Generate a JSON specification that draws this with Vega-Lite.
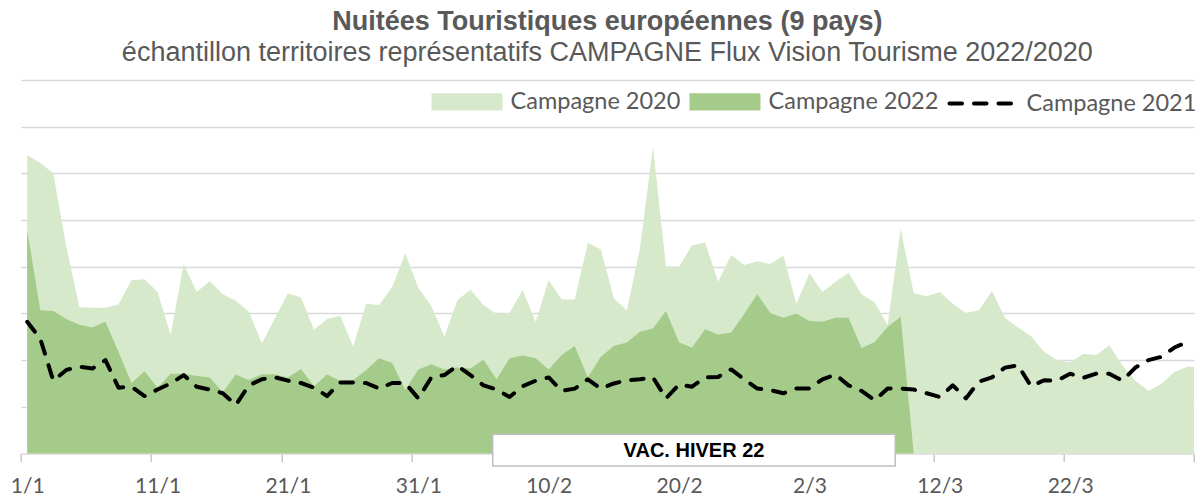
{
  "$schema": "https://vega.github.io/schema/vega-lite/v6.json",
  "width": 1173.3,
  "height": 373.5,
  "autosize": {"type": "none"},
  "padding": {"left": 20.7, "top": 80, "right": 10, "bottom": 42.5},
  "background": "white",
  "config": {"view": {"stroke": null}},
  "title": {
    "text": "Nuitées Touristiques européennes (9 pays)",
    "subtitle": "échantillon territoires représentatifs CAMPAGNE Flux Vision Tourisme 2022/2020",
    "font": "Liberation Sans", "fontSize": 27, "fontWeight": "bold", "color": "#595959",
    "subtitleFont": "Liberation Sans", "subtitleFontSize": 27, "subtitleFontWeight": "normal", "subtitleColor": "#595959",
    "anchor": "middle", "frame": "group", "offset": -1, "subtitlePadding": 4
  },
  "data": {"values": [
    {"date":"2022-01-01","c2020":6.39,"c2022":4.79,"c2021":2.82},
    {"date":"2022-01-02","c2020":6.23,"c2022":3.07,"c2021":2.46},
    {"date":"2022-01-03","c2020":6.0,"c2022":3.05,"c2021":1.56},
    {"date":"2022-01-04","c2020":4.43,"c2022":2.88,"c2021":1.79},
    {"date":"2022-01-05","c2020":3.14,"c2022":2.76,"c2021":1.86},
    {"date":"2022-01-06","c2020":3.12,"c2022":2.7,"c2021":1.82},
    {"date":"2022-01-07","c2020":3.12,"c2022":2.82,"c2021":2.0},
    {"date":"2022-01-08","c2020":3.19,"c2022":2.18,"c2021":1.41},
    {"date":"2022-01-09","c2020":3.71,"c2022":1.51,"c2021":1.43},
    {"date":"2022-01-10","c2020":3.73,"c2022":1.76,"c2021":1.23},
    {"date":"2022-01-11","c2020":3.46,"c2022":1.41,"c2021":1.37},
    {"date":"2022-01-12","c2020":2.54,"c2022":1.71,"c2021":1.5},
    {"date":"2022-01-13","c2020":4.06,"c2022":1.71,"c2021":1.68},
    {"date":"2022-01-14","c2020":3.46,"c2022":1.66,"c2021":1.43},
    {"date":"2022-01-15","c2020":3.69,"c2022":1.63,"c2021":1.37},
    {"date":"2022-01-16","c2020":3.41,"c2022":1.31,"c2021":1.29},
    {"date":"2022-01-17","c2020":3.27,"c2022":1.69,"c2021":1.04},
    {"date":"2022-01-18","c2020":3.04,"c2022":1.57,"c2021":1.46},
    {"date":"2022-01-19","c2020":2.36,"c2022":1.7,"c2021":1.59},
    {"date":"2022-01-20","c2020":2.89,"c2022":1.7,"c2021":1.63},
    {"date":"2022-01-21","c2020":3.43,"c2022":1.63,"c2021":1.56},
    {"date":"2022-01-22","c2020":3.34,"c2022":1.81,"c2021":1.51},
    {"date":"2022-01-23","c2020":2.65,"c2022":1.44,"c2021":1.41},
    {"date":"2022-01-24","c2020":2.88,"c2022":1.69,"c2021":1.23},
    {"date":"2022-01-25","c2020":2.95,"c2022":1.56,"c2021":1.52},
    {"date":"2022-01-26","c2020":2.29,"c2022":1.57,"c2021":1.52},
    {"date":"2022-01-27","c2020":3.21,"c2022":1.79,"c2021":1.51},
    {"date":"2022-01-28","c2020":3.18,"c2022":2.04,"c2021":1.39},
    {"date":"2022-01-29","c2020":3.57,"c2022":1.94,"c2021":1.51},
    {"date":"2022-01-30","c2020":4.29,"c2022":1.36,"c2021":1.51},
    {"date":"2022-01-31","c2020":3.55,"c2022":1.8,"c2021":1.18},
    {"date":"2022-02-01","c2020":3.16,"c2022":1.91,"c2021":1.63},
    {"date":"2022-02-02","c2020":2.5,"c2022":1.8,"c2021":1.68},
    {"date":"2022-02-03","c2020":3.29,"c2022":1.84,"c2021":1.88},
    {"date":"2022-02-04","c2020":3.51,"c2022":1.82,"c2021":1.68},
    {"date":"2022-02-05","c2020":3.18,"c2022":2.01,"c2021":1.46},
    {"date":"2022-02-06","c2020":2.99,"c2022":1.59,"c2021":1.37},
    {"date":"2022-02-07","c2020":3.01,"c2022":2.04,"c2021":1.21},
    {"date":"2022-02-08","c2020":3.51,"c2022":2.1,"c2021":1.44},
    {"date":"2022-02-09","c2020":2.82,"c2022":2.04,"c2021":1.56},
    {"date":"2022-02-10","c2020":3.71,"c2022":1.8,"c2021":1.63},
    {"date":"2022-02-11","c2020":3.3,"c2022":2.11,"c2021":1.34},
    {"date":"2022-02-12","c2020":3.3,"c2022":2.3,"c2021":1.39},
    {"date":"2022-02-13","c2020":4.51,"c2022":1.63,"c2021":1.59},
    {"date":"2022-02-14","c2020":4.37,"c2022":2.07,"c2021":1.39},
    {"date":"2022-02-15","c2020":3.32,"c2022":2.3,"c2021":1.5},
    {"date":"2022-02-16","c2020":3.07,"c2022":2.38,"c2021":1.57},
    {"date":"2022-02-17","c2020":4.39,"c2022":2.61,"c2021":1.59},
    {"date":"2022-02-18","c2020":6.57,"c2022":2.68,"c2021":1.63},
    {"date":"2022-02-19","c2020":4.01,"c2022":3.05,"c2021":1.18},
    {"date":"2022-02-20","c2020":4.0,"c2022":2.38,"c2021":1.48},
    {"date":"2022-02-21","c2020":4.46,"c2022":2.27,"c2021":1.43},
    {"date":"2022-02-22","c2020":4.52,"c2022":2.66,"c2021":1.63},
    {"date":"2022-02-23","c2020":3.68,"c2022":2.55,"c2021":1.64},
    {"date":"2022-02-24","c2020":4.25,"c2022":2.59,"c2021":1.8},
    {"date":"2022-02-25","c2020":4.04,"c2022":2.99,"c2021":1.59},
    {"date":"2022-02-26","c2020":4.12,"c2022":3.41,"c2021":1.39},
    {"date":"2022-02-27","c2020":4.06,"c2022":3.01,"c2021":1.36},
    {"date":"2022-02-28","c2020":4.24,"c2022":2.91,"c2021":1.29},
    {"date":"2022-03-01","c2020":3.21,"c2022":3.0,"c2021":1.39},
    {"date":"2022-03-02","c2020":3.86,"c2022":2.84,"c2021":1.39},
    {"date":"2022-03-03","c2020":3.46,"c2022":2.82,"c2021":1.59},
    {"date":"2022-03-04","c2020":3.68,"c2022":2.91,"c2021":1.69},
    {"date":"2022-03-05","c2020":3.87,"c2022":2.91,"c2021":1.46},
    {"date":"2022-03-06","c2020":3.41,"c2022":2.26,"c2021":1.34},
    {"date":"2022-03-07","c2020":3.24,"c2022":2.39,"c2021":1.14},
    {"date":"2022-03-08","c2020":2.75,"c2022":2.71,"c2021":1.39},
    {"date":"2022-03-09","c2020":4.82,"c2022":2.93,"c2021":1.39},
    {"date":"2022-03-10","c2020":3.43,"c2022":0,"c2021":1.37},
    {"date":"2022-03-11","c2020":3.37,"c2022":null,"c2021":1.29},
    {"date":"2022-03-12","c2020":3.46,"c2022":null,"c2021":1.21},
    {"date":"2022-03-13","c2020":3.21,"c2022":null,"c2021":1.46},
    {"date":"2022-03-14","c2020":3.01,"c2022":null,"c2021":1.18},
    {"date":"2022-03-15","c2020":3.07,"c2022":null,"c2021":1.54},
    {"date":"2022-03-16","c2020":3.48,"c2022":null,"c2021":1.63},
    {"date":"2022-03-17","c2020":2.91,"c2022":null,"c2021":1.84},
    {"date":"2022-03-18","c2020":2.7,"c2022":null,"c2021":1.89},
    {"date":"2022-03-19","c2020":2.51,"c2022":null,"c2021":1.44},
    {"date":"2022-03-20","c2020":2.18,"c2022":null,"c2021":1.57},
    {"date":"2022-03-21","c2020":2.0,"c2022":null,"c2021":1.56},
    {"date":"2022-03-22","c2020":1.95,"c2022":null,"c2021":1.71},
    {"date":"2022-03-23","c2020":2.13,"c2022":null,"c2021":1.62},
    {"date":"2022-03-24","c2020":2.11,"c2022":null,"c2021":1.71},
    {"date":"2022-03-25","c2020":2.32,"c2022":null,"c2021":1.71},
    {"date":"2022-03-26","c2020":1.89,"c2022":null,"c2021":1.56},
    {"date":"2022-03-27","c2020":1.56,"c2022":null,"c2021":1.84},
    {"date":"2022-03-28","c2020":1.34,"c2022":null,"c2021":2.0},
    {"date":"2022-03-29","c2020":1.49,"c2022":null,"c2021":2.07},
    {"date":"2022-03-30","c2020":1.75,"c2022":null,"c2021":2.27},
    {"date":"2022-03-31","c2020":1.86,"c2022":null,"c2021":2.39},
    {"date":"2022-04-01","c2020":1.86,"c2022":null,"c2021":null}
  ]},
  "layer": [
    {
      "mark": {"type": "area", "clip": true},
      "encoding": {
        "x": {
          "field": "date", "type": "temporal",
          "scale": {"type": "utc", "nice": false, "domain": [
            {"year": 2021, "month": 12, "date": 31, "hours": 12, "utc": true},
            {"year": 2022, "month": 3, "date": 31, "hours": 12, "utc": true}
          ]},
          "axis": {
            "title": null, "grid": false,
            "values": [
              {"year": 2021, "month": 12, "date": 31, "hours": 12, "utc": true},
              {"year": 2022, "month": 1, "date": 10, "hours": 12, "utc": true},
              {"year": 2022, "month": 1, "date": 20, "hours": 12, "utc": true},
              {"year": 2022, "month": 1, "date": 30, "hours": 12, "utc": true},
              {"year": 2022, "month": 2, "date": 9, "hours": 12, "utc": true},
              {"year": 2022, "month": 2, "date": 19, "hours": 12, "utc": true},
              {"year": 2022, "month": 3, "date": 1, "hours": 12, "utc": true},
              {"year": 2022, "month": 3, "date": 11, "hours": 12, "utc": true},
              {"year": 2022, "month": 3, "date": 21, "hours": 12, "utc": true},
              {"year": 2022, "month": 3, "date": 31, "hours": 12, "utc": true}
            ],
            "labelExpr": "utcmonth(datum.value) == 2 && utcdate(datum.value) == 31 ? '' : utcFormat(datum.value + 43200000, '%-d/%-m')",
            "labelOffset": 6.52, "labelFlush": false, "labelOverlap": false,
            "labelFont": "Lato", "labelFontSize": 21, "labelColor": "#595959", "labelPadding": 14,
            "tickSize": 8, "tickColor": "#bfbfbf", "tickWidth": 1.3,
            "domainColor": "#d9d9d9", "domainWidth": 1.5
          }
        },
        "y": {
          "field": "c2020", "type": "quantitative", "stack": null,
          "scale": {"domain": [0, 8], "nice": false},
          "axis": {"title": null, "labels": false, "ticks": false, "domain": false,
                   "grid": true, "gridColor": "#d9d9d9", "gridWidth": 1.3,
                   "values": [1, 2, 3, 4, 5, 6, 7, 8]}
        },
        "color": {
          "datum": "Campagne 2020",
          "scale": {"domain": ["Campagne 2020", "Campagne 2022", "Campagne 2021"],
                    "range": ["#d6e9ca", "#a4cb89", "#000000"]},
          "legend": {
            "title": null, "orient": "none", "direction": "horizontal",
            "legendX": 410.8, "legendY": -14, "padding": 0,
            "labelFont": "Lato", "labelFontSize": 23.5, "labelColor": "#595959", "labelLimit": 400,
            "labelOffset": 8, "columnPadding": 3,
            "symbolSize": 4489, "symbolStrokeWidth": 4,
            "encode": {
              "symbols": {"update": {
                "shape": {"signal": "datum.value == 'Campagne 2021' ? 'stroke' : 'M-1,-0.2H1V0.2H-1Z'"},
                "fill": {"signal": "datum.value == 'Campagne 2021' ? 'transparent' : scale('color', datum.value)"},
                "stroke": {"signal": "datum.value == 'Campagne 2021' ? '#000000' : 'transparent'"},
                "strokeDash": {"signal": "datum.value == 'Campagne 2021' ? [12.5, 12] : [1, 0]"},
                "strokeCap": {"value": "round"},
                "opacity": {"value": 1}
              }}
            }
          }
        }
      }
    },
    {
      "mark": {"type": "area"},
      "encoding": {
        "x": {"field": "date", "type": "temporal"},
        "y": {"field": "c2022", "type": "quantitative", "stack": null},
        "color": {"datum": "Campagne 2022"}
      }
    },
    {
      "mark": {"type": "line", "strokeWidth": 4, "strokeDash": [12.5, 12], "strokeCap": "round", "strokeJoin": "round"},
      "encoding": {
        "x": {"field": "date", "type": "temporal"},
        "y": {"field": "c2021", "type": "quantitative"},
        "color": {"datum": "Campagne 2021"}
      }
    },
    {
      "data": {"values": [{"label": "VAC. HIVER 22", "start": "2022-02-05T17:00:00Z", "end": "2022-03-08T14:00:00Z"}]},
      "mark": {"type": "rect", "fill": "white", "stroke": "#bfbfbf", "strokeWidth": 1.5},
      "encoding": {
        "x": {"field": "start", "type": "temporal"},
        "x2": {"field": "end"},
        "y": {"datum": 0.41},
        "y2": {"datum": -0.27}
      }
    },
    {
      "data": {"values": [{"label": "VAC. HIVER 22", "start": "2022-02-05T17:00:00Z", "end": "2022-03-08T14:00:00Z"}]},
      "transform": [{"calculate": "(toNumber(toDate(datum.start)) + toNumber(toDate(datum.end))) / 2", "as": "mid"}],
      "mark": {"type": "text", "font": "Liberation Sans", "fontSize": 20, "fontWeight": "bold", "color": "#000000", "baseline": "middle", "align": "center"},
      "encoding": {
        "x": {"field": "mid", "type": "temporal"},
        "y": {"datum": 0.06},
        "text": {"field": "label"}
      }
    }
  ]
}
